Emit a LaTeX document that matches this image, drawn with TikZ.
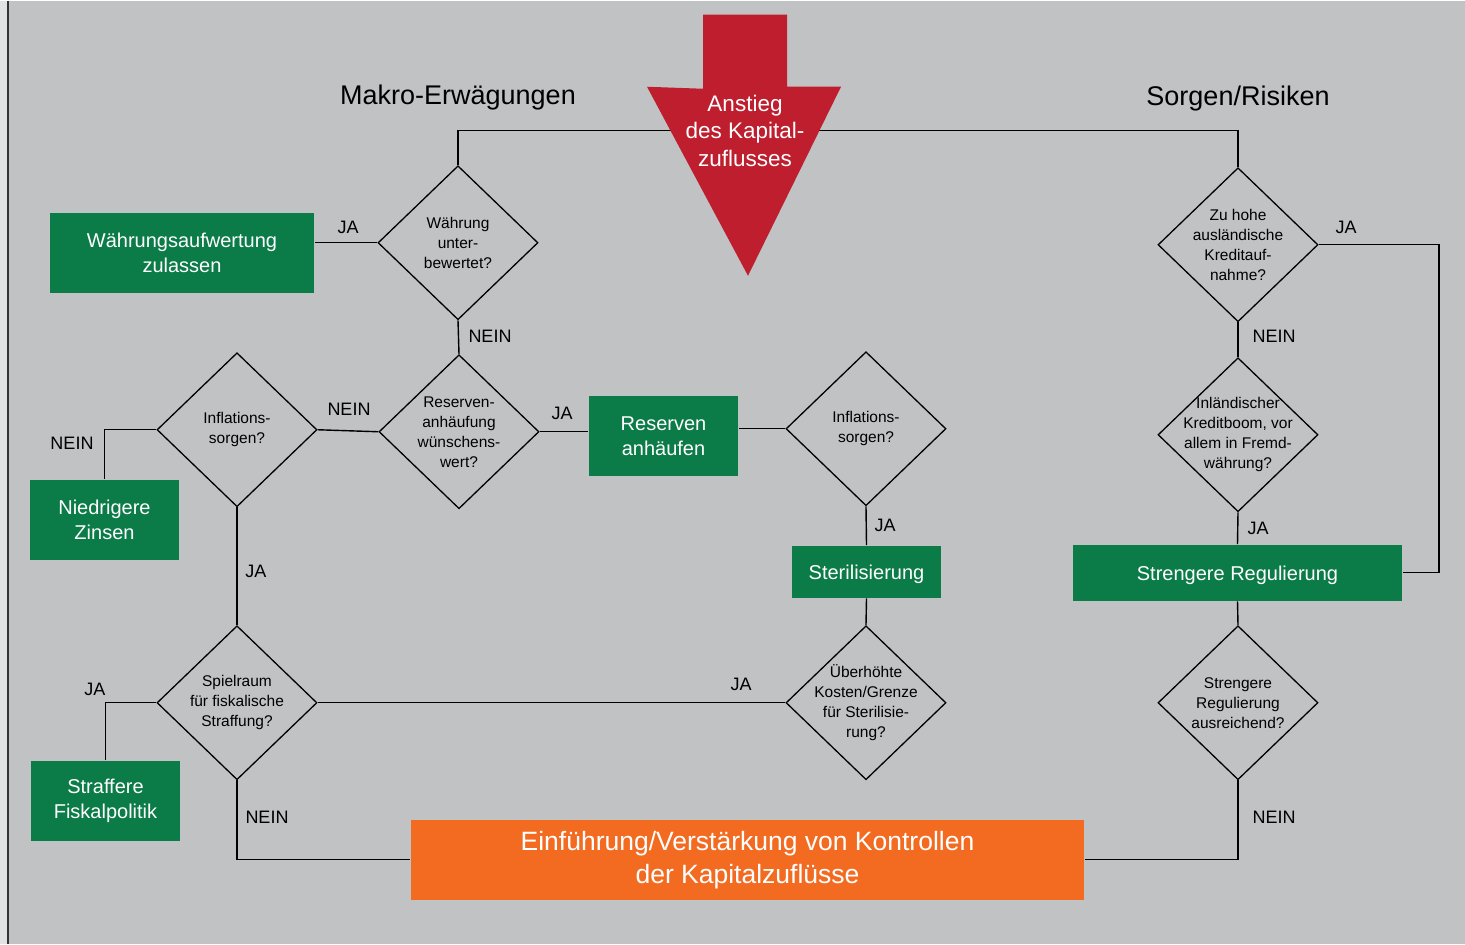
\documentclass[tikz,border=0pt]{standalone}
\usepackage{fontspec}
\setmainfont{Liberation Sans}
\usetikzlibrary{shapes.geometric}

\definecolor{panel}{HTML}{C1C2C4}
\definecolor{strip}{HTML}{E1E2E4}
\definecolor{measure}{HTML}{0B7B47}
\definecolor{control}{HTML}{F26B21}
\definecolor{inflow}{HTML}{BE1E2D}

\newcommand{\fs}[2]{\fontsize{#1}{#2}\selectfont}

\begin{document}
\begin{tikzpicture}[
    x=1pt, y=-1pt,
    line width=1.4pt,
    decision/.style={diamond, draw, line width=1.3pt, minimum width=160pt,
        minimum height=154pt, inner sep=-22pt, align=center, font=\fs{15.5}{20}},
    action/.style={fill=measure, text=white, inner sep=0pt, align=center,
        font=\fs{20}{25}},
    answer/.style={font=\fs{18}{20}},
    heading/.style={font=\fs{27}{30}}]

    % background
    \fill[panel] (0,0) rectangle (1465,943);
    \fill[strip] (0,0) rectangle (8,943);
    \draw[line width=1.5pt, black!80] (8,0) -- (8,943);

    \node[heading] (makro) at (458,97) {Makro-Erwägungen};
    \node[heading] (risk) at (1238,98) {Sorgen/Risiken};

    % decisions
    \node[decision] (d1) at (458,242) {Währung\\unter-\\bewertet?};
    \node[decision] (d2) at (459,431) {Reserven-\\anhäufung\\wünschens-\\wert?};
    \node[decision] (d3) at (237,429) {Inflations-\\sorgen?};
    \node[decision] (d4) at (866,428) {Inflations-\\sorgen?};
    \node[decision] (d5) at (237,702) {Spielraum\\für fiskalische\\Straffung?};
    \node[decision] (d6) at (866,702) {Überhöhte\\Kosten/Grenze\\für Sterilisie-\\rung?};
    \node[decision] (d7) at (1238,244) {Zu hohe\\ausländische\\Kreditauf-\\nahme?};
    \node[decision] (d8) at (1238,434) {Inländischer\\Kreditboom, vor\\allem in Fremd-\\währung?};
    \node[decision] (d9) at (1238,702) {Strengere\\Regulierung\\ausreichend?};

    % measures
    \node[action, minimum width=264pt, minimum height=80pt] (g1) at (182,252) {Währungsaufwertung\\zulassen};
    \node[action, minimum width=149pt, minimum height=80pt] (g2) at (663.5,435) {Reserven\\anhäufen};
    \node[action, minimum width=149pt, minimum height=80pt] (g3) at (104.5,519) {Niedrigere\\Zinsen};
    \node[action, minimum width=149pt, minimum height=80pt] (g5) at (105.5,800) {Straffere\\Fiskalpolitik};
    \node[action, minimum width=149pt, minimum height=52pt, text depth=0pt] (steril) at (866.5,571) {Sterilisierung};
    \node[action, minimum width=329pt, minimum height=56pt, text depth=0pt] (reg) at (1237.5,572) {Strengere Regulierung};
    \node[action, fill=control, minimum width=673pt, minimum height=80pt,
        font=\fs{26.5}{33}] (ctrl) at (747.5,859) {Einführung/Verstärkung von Kontrollen\\der Kapitalzuflüsse};

    % connectors
    \coordinate (split) at (748,130);
    \coordinate (rcorner) at (1439,244);
    \draw (d1.north) |- (split) -| (d7.north);
    \draw (d1.west) -- (d1.west -| g1.east);
    \draw (d1.south) -- (d2.north);
    \draw (d2.east) -- (d2.east -| g2.west);
    \draw (d2.west) -- (d3.east);
    \draw (d3.west) -| (g3.north);
    \draw (d3.south) -- (d5.north);
    \draw (d5.west) -| (g5.north);
    \draw (d5.south) |- (ctrl.west);
    \draw (d4.west) -- (d4.west -| g2.east);
    \draw (d4.south) -- (steril.north);
    \draw (steril.south) -- (d6.north);
    \draw (d6.west) -- (d5.east);
    \draw (d7.east) -- (rcorner) |- (reg.east);
    \draw (d7.south) -- (d8.north);
    \draw (d8.south) -- (reg.north);
    \draw (reg.south) -- (d9.north);
    \draw (d9.south) |- (ctrl.east);

    % inflow arrow
    \fill[inflow] (703,14) -- (787,14) -- (787,86) -- (841,86) -- (748,275)
        -- (647,86) -- (703,88) -- cycle;
    \node[text=white, align=center, font=\fs{22.5}{27.5}] (anstieg) at (745,130)
        {Anstieg\\des Kapital-\\zuflusses};

    % answers
    \node[answer] (a1) at (348,227) {JA};
    \node[answer] (a2) at (490,336) {NEIN};
    \node[answer] (a3) at (562,413) {JA};
    \node[answer] (a4) at (349,409) {NEIN};
    \node[answer] (a5) at (72,443) {NEIN};
    \node[answer] (a6) at (256,571) {JA};
    \node[answer] (a7) at (95,689) {JA};
    \node[answer] (a8) at (267,817) {NEIN};
    \node[answer] (a9) at (885,525) {JA};
    \node[answer] (a10) at (741,684) {JA};
    \node[answer] (a11) at (1346,227) {JA};
    \node[answer] (a12) at (1274,336) {NEIN};
    \node[answer] (a13) at (1258,528) {JA};
    \node[answer] (a14) at (1274,817) {NEIN};
\end{tikzpicture}
\end{document}
